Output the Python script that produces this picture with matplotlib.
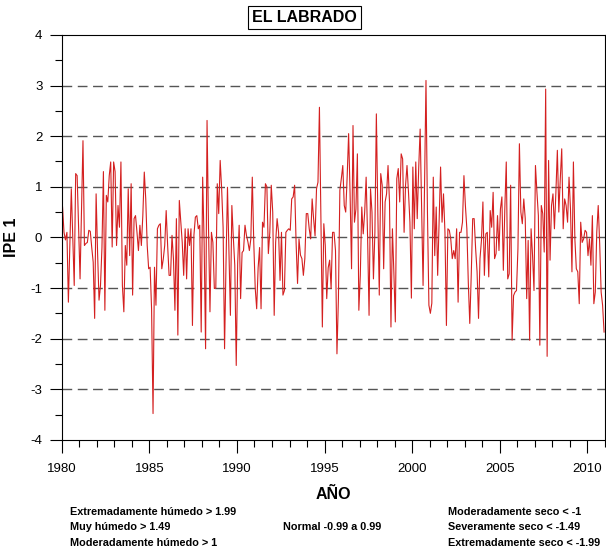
import matplotlib
matplotlib.use("Agg")
import matplotlib.pyplot as plt
import numpy as np
from matplotlib.ticker import MultipleLocator

# monthly IPE-1 values, one row per year (Jan..Dec)
years = list(range(1980, 2011))
ipe = [
    [0.6, 0.1, -0.05, 0.1, -1.28, -0.2, 0.96, 0.0, -0.95, 1.26, 1.22, 0.2],          # 1980
    [-0.82, 0.5, 1.91, -0.16, -0.12, -0.1, 0.14, 0.12, -0.2, -0.49, -1.6, 0.86],      # 1981
    [-0.3, -1.24, -0.95, -0.2, 1.3, -1.44, 0.83, 0.7, 1.22, 1.49, -0.19, 1.49],       # 1982
    [1.3, -0.16, 0.63, 0.2, 1.49, -0.95, -1.47, -0.16, -0.55, 0.96, -0.36, 1.06],     # 1983
    [-1.14, 0.37, 0.43, 0.1, -0.26, 0.24, -0.16, 0.43, 1.29, 0.76, -0.16, -0.62],     # 1984
    [-0.59, -1.41, -3.48, -0.59, -1.34, 0.17, 0.24, 0.27, -0.62, -0.43, -0.16, 0.53], # 1985
    [-0.16, -0.75, -0.75, 0.04, -0.43, -1.44, 0.37, -1.93, 0.73, 0.3, -0.1, -0.75],   # 1986
    [0.17, -0.82, 0.17, -0.16, 0.17, -1.74, 0.04, 0.4, 0.43, 0.17, 0.24, -1.87],      # 1987
    [1.19, -0.1, -2.2, 2.31, 0.2, -1.47, 0.1, -0.1, -1.01, -1.0, 1.06, 0.47],         # 1988
    [1.52, 0.96, 0.2, -2.2, -0.5, 0.99, -0.3, -1.54, 0.63, 0.0, -0.55, -2.53],        # 1989
    [-0.5, 0.24, -1.21, -0.3, -0.26, 0.24, 0.04, -0.09, -0.26, -0.03, 1.19, -0.09],   # 1990
    [-1.0, -1.41, -0.6, -0.2, -1.41, 0.3, 0.2, 1.06, 1.0, -0.32, 0.1, 1.03],          # 1991
    [0.5, -1.54, -0.1, 0.37, 0.1, -0.85, 0.1, -1.14, -1.05, 0.1, 0.14, 0.17],         # 1992
    [0.14, 0.76, 0.8, 1.03, -0.1, -0.91, -0.03, -0.35, -0.42, -0.75, -0.42, 0.47],    # 1993
    [0.47, 0.17, -0.03, 0.76, 0.37, 0.03, 0.96, 1.09, 2.57, 0.43, -1.77, 0.27],       # 1994
    [-0.16, -1.21, -0.6, -0.45, -1.01, 0.1, 0.1, -0.26, -2.3, -1.21, 0.93, 1.16],     # 1995
    [1.42, 0.63, 0.5, 1.2, 2.05, 0.86, -0.62, 2.21, 0.3, 0.56, 1.65, -1.44],          # 1996
    [-0.75, 0.6, 0.07, 0.5, 1.19, 0.0, -1.54, 0.96, 0.5, -0.82, 0.1, 2.44],           # 1997
    [0.5, -1.14, 1.26, 1.03, -0.62, 0.7, 0.86, 1.42, 0.7, -1.77, 0.17, -0.7],         # 1998
    [-1.67, 1.16, 1.36, 0.7, 1.65, 1.55, 0.1, 1.03, 1.42, 0.9, 0.3, -1.2],            # 1999
    [1.39, 0.17, 1.49, 0.37, 1.36, 2.14, 0.63, -0.95, 1.0, 3.1, 0.5, -1.34],          # 2000
    [-1.5, -1.3, 1.19, -0.36, 0.6, -0.75, 0.3, 1.39, 0.3, 0.86, 0.1, -1.74],          # 2001
    [0.17, 0.14, -0.04, -0.42, -0.26, -0.42, 0.17, -1.28, 0.1, 0.1, 0.3, 1.22],       # 2002
    [0.63, 0.17, -0.9, -1.7, -0.75, 0.37, 0.37, -0.22, -0.68, -1.6, -0.42, -0.06],    # 2003
    [0.7, -0.75, 0.07, 0.1, -0.78, 0.53, 0.2, 0.89, -0.42, -0.32, 0.43, -0.26],       # 2004
    [0.56, 0.8, -0.65, 0.56, 1.49, -0.82, -0.72, 1.03, -2.03, -1.15, -1.08, -1.05],   # 2005
    [-0.22, 1.85, 0.5, 0.27, 0.76, 0.37, -1.21, -0.06, -2.03, 0.17, -0.35, -1.05],    # 2006
    [1.42, 0.9, 0.43, -2.13, 0.63, 0.47, -0.29, 2.93, -2.35, 1.52, -0.45, 0.63],      # 2007
    [0.86, 0.17, 0.89, 1.72, 0.5, 1.15, 1.75, 0.17, 0.76, 0.63, 0.3, 1.19],           # 2008
    [0.56, -0.68, 1.49, -0.03, -0.62, -0.68, -1.31, 0.3, -0.1, -0.03, 0.14, 0.1],     # 2009
    [-0.36, -0.03, -0.55, 0.43, -1.31, -1.08, 0.1, 0.63, -0.12, -1.08, -1.34, -1.87], # 2010
]

station = "EL LABRADO"
legend_wet = ["Extremadamente húmedo > 1.99", "Muy húmedo > 1.49", "Moderadamente húmedo > 1"]
legend_normal = "Normal -0.99 a 0.99"
legend_dry = ["Moderadamente seco < -1", "Severamente seco < -1.49", "Extremadamente seco < -1.99"]

vals = np.array(ipe).ravel()
t = np.repeat(years, 12) + np.tile(np.arange(12), len(years)) / 12 + 1 / 24

plt.rcParams["font.family"] = ["Liberation Sans", "DejaVu Sans"]
plt.rcParams["axes.unicode_minus"] = False

fig = plt.figure(figsize=(6.06, 5.54), dpi=100)
ax = fig.add_axes([0.102, 0.206, 0.896, 0.731])

for yv in [-3, -2, -1, 0, 1, 2, 3]:
    ax.axhline(yv, color="#555555", lw=1.0, ls=(0, (7, 4)), zorder=1)
ax.plot(t, vals, color="#d42020", lw=0.8, zorder=2)

ax.set_xlim(1980, 2011)
ax.set_ylim(-4, 4)
ax.xaxis.set_major_locator(MultipleLocator(5))
ax.xaxis.set_minor_locator(MultipleLocator(1))
ax.yaxis.set_major_locator(MultipleLocator(1))
ax.yaxis.set_minor_locator(MultipleLocator(0.5))
ax.tick_params(which="major", direction="out", length=9, width=0.8, labelsize=9.5, pad=8)
ax.tick_params(which="minor", direction="out", length=5, width=0.8)
ax.tick_params(axis="y", which="major", pad=5)
for s in ax.spines.values():
    s.set_linewidth(0.8)

ax.set_xlabel("AÑO", fontsize=11.5, fontweight="bold", labelpad=8)
ax.set_ylabel("IPE 1", fontsize=11.5, fontweight="bold", labelpad=8)

fig.text(0.503, 0.968, station, ha="center", va="center", fontsize=11.5,
         fontweight="bold",
         bbox=dict(facecolor="white", edgecolor="black", lw=0.8, pad=3))

# classification legend under the axis, in a tight bold face
rows_y = [0.076, 0.049, 0.020]
for y, s in zip(rows_y, legend_wet):
    fig.text(0.116, y, s, ha="left", va="center", fontsize=7.8, fontweight="bold")
fig.text(0.467, rows_y[1], legend_normal, ha="left", va="center", fontsize=7.8,
         fontweight="bold")
for y, s in zip(rows_y, legend_dry):
    fig.text(0.740, y, s, ha="left", va="center", fontsize=7.8, fontweight="bold")

fig.savefig("out.png", dpi=100)
